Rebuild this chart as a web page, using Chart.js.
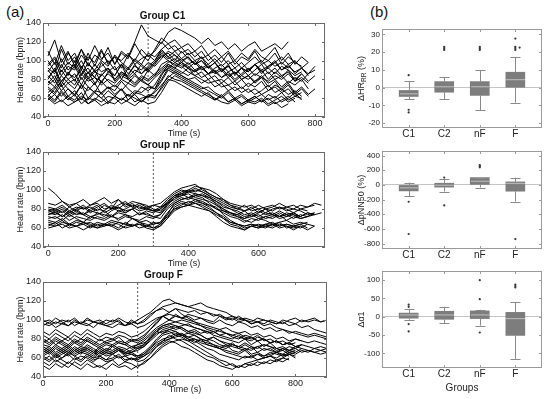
<!DOCTYPE html>
<html><head><meta charset="utf-8">
<script src="https://cdn.jsdelivr.net/npm/chart.js@4.4.1/dist/chart.umd.min.js"></script>
<style>
html,body{margin:0;padding:0;background:#fff;width:550px;height:399px;overflow:hidden;position:relative;font-family:'Liberation Sans',Arial,sans-serif;}
canvas{position:absolute;}
.lab{position:absolute;font-size:15px;color:#111;line-height:18px;}
</style></head><body>
<div class="lab" style="left:6px;top:3px">(a)</div>
<div class="lab" style="left:370px;top:3px">(b)</div>
<canvas id="cC1" width="330" height="129" style="left:0;top:10px"></canvas>
<canvas id="cNF" width="330" height="130" style="left:0;top:139px"></canvas>
<canvas id="cF" width="330" height="126" style="left:0;top:269px"></canvas>
<canvas id="bHR" width="210" height="120" style="left:340px;top:20px"></canvas>
<canvas id="bPN" width="210" height="119" style="left:340px;top:142px"></canvas>
<canvas id="bA1" width="210" height="132" style="left:340px;top:262px"></canvas>
<script>
// ---------- DATA ----------
const stimTime = 300;
const c1Time = [0,20,40,60,80,100,120,140,160,180,200,220,240,260,280,300,320,340,360,380,400,420,440,460,480,500,520,540,560,580,600,620,640,660,680,700,720,740,760,780,800];
const c1Traces = [
 [105,122,98,110,94,112,100,116,102,108,96,110,104,120,138,126,122,118,130,135,132,128,124,118,124,116,120,112,118,110,116,120,110,114,118,112,120],
 [100,88,112,96,104,90,108,94,110,98,104,92,106,100,112,104,110,120,112,116,108,112,104,110,100,106,98,108,96,104,100,110,98,106,114,100,108,96,104,98],
 [90,80,96,84,100,86,92,82,98,88,94,80,92,86,96,90,98,104,108,100,110,102,96,104,92,98,88,96,84,92,88,96,86,94,100,90,96,86,92,84],
 [80,92,74,88,78,94,82,90,76,88,84,96,80,86,78,90,84,96,100,94,98,92,88,94,86,90,82,88,80,86,92,84,90,80,88,82,90,78,86],
 [62,56,66,58,64,54,60,58,66,56,62,58,64,56,60,62,66,74,82,88,84,80,76,72,68,64,60,66,58,62,56,60,64,58,62,56,60,66,58],
 [70,64,74,62,68,58,72,66,60,68,62,70,58,66,64,60,68,78,90,86,82,78,74,70,72,66,62,68,60,64,58,62,56,64,60,66,58,62,60],
 [78,72,84,76,80,70,82,74,86,78,72,80,76,84,78,74,82,88,94,90,86,92,84,88,80,84,76,82,74,80,72,78,84,76,80,72,78,74,80,70],
 [88,98,84,94,90,100,86,96,88,92,84,96,90,100,94,88,96,106,100,96,92,98,90,94,86,92,96,88,92,84,90,96,88,92,86,94,90,84,88],
 [74,80,68,76,70,82,72,66,78,70,74,68,76,72,80,74,70,84,96,92,88,84,90,82,86,78,80,74,78,70,76,72,78,68,74,70,76,66,72,64,70],
 [58,64,56,62,58,66,54,60,56,62,60,54,58,64,56,62,60,72,84,80,78,74,70,66,62,58,64,56,60,54,58,62,56,60,54,58,62,56],
 [110,96,116,100,108,92,104,98,112,96,104,100,108,96,102,106,100,112,104,110,102,108,100,104,96,102,94,100,92,98,90,96,100,92,98,104,96,100,92,98],
 [84,76,90,80,86,74,88,82,78,86,80,88,82,76,84,80,86,92,98,102,96,92,98,90,94,86,90,82,88,80,84,78,82,88,80,84,76,82,78,86,90],
 [66,72,62,70,64,74,60,68,66,72,64,70,62,68,66,72,70,80,92,98,94,88,84,80,76,78,72,74,68,72,66,70,64,68,72,66,70,62,66],
 [92,86,102,90,96,84,98,88,94,100,90,96,86,94,90,98,94,102,110,106,100,104,96,100,92,98,90,94,86,92,88,96,90,94,98,90,94,88,92,86,94],
 [60,54,58,52,56,60,54,58,52,56,54,60,56,52,58,54,56,66,78,84,80,76,72,68,64,60,56,54,58,52,56,54,58,52,56,50,54],
 [76,84,72,80,74,86,78,82,74,80,76,84,80,74,82,78,84,90,96,92,98,94,88,92,86,88,82,86,78,84,80,86,82,78,84,80,86,78,82,76],
 [96,104,92,108,98,112,94,106,100,114,96,108,102,118,106,100,112,124,118,122,114,118,110,116,106,112,104,110,100,108,102,112,104,100,108,96,104,98,94],
 [62,70,78,86,82,90,80,88,84,92,78,86,82,90,86,94,100,110,104,98,102,96,100,92,96,88,92,84,88,80,84,76,82,72,78,68,74,64,70,62],
 [72,66,78,70,62,74,68,76,64,72,68,78,70,64,72,68,74,86,92,88,84,80,82,76,80,72,76,68,72,66,70,64,68,74,66,70,64,68,62],
 [94,102,88,98,92,106,96,90,100,94,106,98,92,102,96,108,104,112,118,110,114,106,110,102,106,98,104,96,100,92,98,104,96,100,94,98,92,100],
 [64,58,68,60,56,62,58,66,60,54,62,58,64,60,56,64,62,70,80,78,74,70,66,62,66,58,62,56,60,54,58,56,60,54,58,62,56,60],
 [82,90,78,86,94,80,88,76,84,92,80,88,84,96,86,92,98,108,102,106,98,104,96,100,92,98,88,94,86,92,84,90,96,86,92,84,88,80,86,78,84]
];
const nfTime = [0,20,40,60,80,100,120,140,160,180,200,220,240,260,280,300,320,340,360,380,400,420,440,460,480,500,520,540,560,580,600,620,640,660,680,700,720,740,760,780];
const nfTraces = [
 [102,96,88,84,86,80,82,78,84,80,82,78,80,84,80,78,82,86,94,98,100,104,102,100,96,90,84,80,78,82,76,80,78,82,80,76,80,78],
 [80,78,82,76,80,84,78,82,86,80,84,88,82,86,84,80,78,84,92,96,100,98,102,96,92,88,84,82,78,80,84,80,82,86,82,80,84,82,86,84],
 [74,76,72,78,74,76,72,74,78,72,76,74,72,76,74,72,70,80,86,90,92,94,96,92,88,84,80,78,74,76,72,76,74,72,76,74,72,76,74],
 [64,62,66,64,62,64,66,62,64,62,66,64,62,64,62,66,64,72,80,84,88,86,84,80,76,72,66,64,62,64,62,64,66,62,64,62,64,66],
 [66,64,68,62,66,64,60,64,62,66,64,60,62,66,64,60,62,70,78,82,84,86,82,78,72,66,62,60,58,62,60,62,64,60,62,58,62],
 [78,80,76,82,78,74,80,84,76,80,90,82,86,80,82,78,80,86,90,94,98,96,94,92,88,82,80,76,72,74,78,74,76,72,74,70,74,72,76],
 [72,70,74,68,72,70,68,72,70,74,68,72,70,68,72,70,74,82,88,92,90,94,92,86,80,76,72,70,66,70,68,72,70,74,68,72,70,72],
 [62,66,60,64,62,66,64,60,62,64,60,66,62,64,60,58,62,70,82,86,84,88,86,84,82,74,68,64,60,62,60,64,62,66,60,62,64,60],
 [76,74,78,72,76,74,70,76,74,72,78,76,80,74,76,72,74,84,92,94,96,92,90,88,84,80,76,74,70,72,74,70,72,76,72,74,70,72,74],
 [70,72,68,74,70,66,72,70,68,72,70,74,70,66,68,64,66,76,84,88,86,90,88,84,80,78,74,72,68,66,70,68,64,66,68,64,66,64],
 [82,80,84,78,82,80,84,86,80,82,78,80,84,82,80,78,76,86,94,96,98,100,98,94,84,78,76,72,70,74,70,72,74,70,72,76,72],
 [68,66,70,64,68,66,62,66,64,68,66,64,70,66,62,60,64,74,86,90,92,90,86,82,76,70,64,62,58,62,64,62,60,64,62,60,62,58,62],
 [86,84,88,82,86,90,84,88,92,86,90,84,88,86,82,84,86,92,98,102,104,106,100,96,92,90,86,84,82,84,80,82,84,80,82,84,80,82,84],
 [74,78,72,76,80,74,78,76,72,78,82,76,80,74,78,76,80,88,94,96,92,96,94,90,86,80,76,74,78,72,76,80,74,78,74,76,72,76,74,76],
 [60,62,64,60,62,58,62,60,64,62,58,62,64,60,62,64,66,74,80,82,84,82,80,78,74,70,66,64,62,64,62,60,64,62,64,62,60,64,62],
 [78,76,80,74,78,82,76,80,78,84,80,86,82,78,80,84,82,90,96,100,98,102,98,94,90,86,82,80,84,78,80,76,80,82,78,80,78,74,76]
];
const fTime = [0,20,40,60,80,100,120,140,160,180,200,220,240,260,280,300,320,340,360,380,400,420,440,460,480,500,520,540,560,580,600,620,640,660,680,700,720,740,760,780,800,820,840,860,880,900];
const fTraces = [
 [98,100,96,100,98,102,96,100,98,96,100,98,102,98,96,100,104,108,114,120,122,118,116,114,112,110,108,106,104,102,100,104,100,98,102,100,98,96,100,98,96,100,98,100,98,100],
 [96,94,98,96,94,98,96,94,98,96,94,92,96,94,98,96,98,104,110,114,116,118,116,114,116,118,114,112,110,108,104,102,100,96,98,94,96,92,90,88,86,84,82,84,82,80],
 [94,98,92,96,100,94,98,96,92,98,94,96,100,94,96,92,94,98,102,104,100,104,102,106,104,102,100,98,104,100,102,98,100,96,98,96,100,98,96,100,102,98,100,102,98,100],
 [80,76,82,78,74,80,76,82,78,74,78,80,76,74,78,76,80,86,92,96,100,98,96,94,92,90,88,86,90,86,84,86,82,80,84,78,80,76,78,74,76],
 [70,66,72,68,64,70,66,72,68,64,68,66,70,68,72,70,74,82,88,92,94,90,92,88,86,84,80,82,78,76,74,72,76,72,70,74,72,68,70,66,68],
 [60,56,62,58,54,60,56,62,58,60,56,58,62,56,60,58,62,66,72,76,80,82,84,86,84,80,78,74,70,66,64,62,60,62,58,60,62,58,60,64,62],
 [66,70,64,68,72,66,70,68,64,70,66,72,68,64,66,70,72,78,84,90,92,94,90,86,88,84,80,78,74,72,76,70,68,72,66,70,68,66,70,68,72,70,68,66,68,66],
 [74,72,78,74,70,76,72,78,74,70,74,72,76,74,70,74,76,80,86,88,90,92,94,96,92,90,86,88,84,82,80,84,80,78,82,80,76,78,74,76,80,78],
 [56,52,58,54,50,56,52,58,54,50,54,58,52,56,54,50,56,60,66,72,76,78,80,78,74,70,66,62,58,56,52,50,54,52,56,54,58,56,60,58],
 [62,58,64,60,66,62,58,64,60,62,58,64,60,62,58,60,64,70,78,84,86,88,84,80,78,74,70,68,64,62,60,58,62,60,64,62,66,64,62,66,64,68,66,70,68,70],
 [76,80,74,78,82,76,80,78,74,80,76,78,82,76,80,78,82,90,98,104,100,106,102,104,100,102,98,96,100,96,94,98,96,92,94,90,92,88,90,86,88,86,84,86,84,82],
 [68,64,70,66,62,68,64,70,66,62,66,64,68,66,64,62,66,72,80,86,88,84,86,82,80,78,76,74,72,70,74,72,70,68,72,74,72,70,68,72,70,74],
 [58,62,56,60,64,58,62,60,56,62,58,60,64,58,60,56,58,64,72,78,84,80,78,74,70,66,62,60,56,52,54,50,54,56,58,60,62,60,64,62],
 [72,68,74,70,66,72,68,74,70,66,70,68,72,70,66,68,72,80,88,94,96,98,100,98,96,94,92,90,88,86,84,82,80,82,78,80,76,78,74,76,72,74,72,70,72,70],
 [64,68,62,66,70,64,68,66,62,68,64,66,70,64,66,62,64,70,76,80,82,86,84,80,76,80,74,72,70,74,68,66,70,64,66,62,64,66,62,64,60],
 [84,80,86,82,78,84,80,86,82,78,82,80,84,82,78,80,84,90,96,104,108,112,106,102,98,94,90,88,84,86,82,80,84,82,78,80,76,78,74,76,72,74],
 [100,96,102,98,94,100,96,102,98,100,96,100,98,94,100,96,100,106,110,112,108,112,110,108,110,106,108,104,106,102,104,100,102,100,98,100,98,96,98,94,96,92,94,90,88,86],
 [78,74,80,76,72,78,74,80,76,72,76,74,78,76,72,74,78,84,90,94,96,94,92,88,90,86,88,84,82,80,78,76,80,74,78,72,76,70,72,68,70,66,68,66,64,66],
 [52,48,54,50,56,52,48,54,50,52,48,54,50,52,48,52,54,60,68,74,78,76,72,70,66,62,58,56,52,50,48,52,50,54,52,56,54,58,56,60],
 [68,72,66,70,74,68,72,70,66,72,68,74,70,66,68,72,74,82,88,86,90,88,84,82,84,80,78,82,78,74,72,70,74,70,72,68,70,66,68,64,66],
 [62,66,60,64,68,62,66,64,60,66,62,64,68,62,64,60,62,68,74,78,80,84,82,78,80,76,74,72,70,68,66,64,68,62,64,60,62,66,64,68,66,70],
 [88,84,90,86,82,88,84,90,86,82,86,84,88,86,82,84,88,94,100,104,106,104,102,100,98,96,94,92,90,92,88,86,88,84,86,82,84,80,82,78,80,78,76,78,76,74]
];
const hrTicks = [40,60,80,100,120,140];
const c1XTicks = [0,200,400,600,800];
const nfXTicks = [0,200,400,600];
const fXTicks = [0,200,400,600,800];

const groups = ['C1','C2','nF','F'];
// ΔHR_RR (%)
const hrLo  = [-6.4,-6.6,-12.7,-8.5];
const hrQ1  = [-5,-2.6,-4.4,0.2];
const hrMed = [-3.5,0.5,0.5,4.5];
const hrQ3  = [-1.6,3.4,3.4,8.7];
const hrHi  = [3.8,5.9,10,17.2];
const hrOut = [[1,7],[1,-12.5],[1,-14],[2,21.3],[2,22.2],[2,23],[3,21.3],[3,22.2],[3,23],[4,21.3],[4,22.2],[4,23],[4.12,22.6],[4,27.7]];
const hrAxTicks = [-20,-10,0,10,20,30];
// ΔpNN50 (%)
const pnLo  = [-155,-90,-36,-227];
const pnQ1  = [-82,-30,0,-86];
const pnMed = [-40,-5,50,20];
const pnQ3  = [0,23,100,41];
const pnHi  = [32,77,100,100];
const pnOut = [[1,-230],[1,-670],[2,100],[2,-280],[3,240],[3,255],[3,270],[4,-740]];
const pnAxTicks = [-800,-600,-400,-200,0,200,400];
// Δα1
const a1Lo  = [-8,-18,-24,-115];
const a1Q1  = [-4,-7,-5,-51];
const a1Med = [5,5,5,-5];
const a1Q3  = [10,15,16,12];
const a1Hi  = [22,27,19,40];
const a1Out = [[1,33],[1,27],[1,-20],[1,-40],[3,100],[3,48],[3,-43],[4,80],[4,84],[4,88]];
const a1AxTicks = [-100,-50,0,50,100];

// ---------- CHARTS ----------
Chart.defaults.font.family = "'Liberation Sans', Arial, sans-serif";
Chart.defaults.font.size = 9;
Chart.defaults.color = '#222';
Chart.defaults.animation = false;

const framePlugin = {
  id: 'frame',
  afterDatasetsDraw(chart, args, opts) {
    const {ctx, chartArea: a, scales} = chart;
    ctx.save();
    ctx.strokeStyle = opts.color || '#555';
    ctx.lineWidth = 1;
    ctx.strokeRect(Math.round(a.left)+0.5, Math.round(a.top)+0.5, Math.round(a.right-a.left)-1, Math.round(a.bottom-a.top)-1);
    const L = 3;
    ctx.beginPath();
    scales.x.ticks.forEach(t => {
      const p = Math.round(scales.x.getPixelForValue(t.value))+0.5;
      ctx.moveTo(p, a.bottom); ctx.lineTo(p, a.bottom-L);
      ctx.moveTo(p, a.top); ctx.lineTo(p, a.top+L);
    });
    scales.y.ticks.forEach(t => {
      const p = Math.round(scales.y.getPixelForValue(t.value))+0.5;
      ctx.moveTo(a.left, p); ctx.lineTo(a.left+L, p);
      ctx.moveTo(a.right, p); ctx.lineTo(a.right-L, p);
    });
    ctx.stroke();
    ctx.restore();
  }
};

function lineChart(id, title, time, traces, xmin, xmax, xticks, padRight, xH) {
  const datasets = traces.map(vals => ({
    data: vals.map((v,i) => ({x: time[i], y: v})),
    borderColor: '#000', borderWidth: 1, pointRadius: 0, tension: 0
  }));
  datasets.push({data: [{x: stimTime, y: 40}, {x: stimTime, y: 140}],
    borderColor: '#555', borderWidth: 1, borderDash: [2,2], pointRadius: 0});
  new Chart(document.getElementById(id), {
    type: 'line',
    data: {datasets},
    options: {
      responsive: false, animation: false, events: [],
      layout: {padding: {left: 0, right: padRight, top: 0, bottom: 0}},
      plugins: {
        legend: {display: false}, tooltip: {enabled: false},
        title: {display: true, text: title, color: '#111', font: {size: 10, weight: 'bold'}, padding: {top: 0, bottom: 1}},
        frame: {color: '#6a6a6a'}
      },
      scales: {
        x: {type: 'linear', min: xmin, max: xmax,
          afterBuildTicks: s => { s.ticks = xticks.map(v => ({value: v})); },
          afterFit: s => { s.height = xH; },
          grid: {display: false, drawTicks: false}, border: {display: false},
          ticks: {padding: 1, maxRotation: 0, autoSkip: false},
          title: {display: true, text: 'Time (s)', padding: 0, font: {size: 9}}},
        y: {type: 'linear', min: 40, max: 140,
          afterBuildTicks: s => { s.ticks = hrTicks.map(v => ({value: v})); },
          afterFit: s => { s.width = 43; },
          grid: {display: false, drawTicks: false}, border: {display: false},
          ticks: {padding: 2},
          title: {display: true, text: 'Heart rate (bpm)', padding: {top: 15, bottom: 0}, font: {size: 9}}}
      }
    },
    plugins: [framePlugin]
  });
}

const boxPlugin = {
  id: 'boxes',
  afterDatasetsDraw(chart, args, o) {
    if (!o || !o.lo) return;
    const {ctx, scales: {x, y}} = chart;
    ctx.save();
    const cap = 5, half = 9.5;
    o.lo.forEach((lo, i) => {
      const cx = Math.round(x.getPixelForValue(i+1)) + 0.5;
      const pLo = y.getPixelForValue(lo), pHi = y.getPixelForValue(o.hi[i]);
      const pQ1 = y.getPixelForValue(o.q1[i]), pQ3 = y.getPixelForValue(o.q3[i]);
      ctx.strokeStyle = '#8a8a8a'; ctx.lineWidth = 1;
      ctx.beginPath();
      ctx.moveTo(cx, pQ3); ctx.lineTo(cx, pHi);
      ctx.moveTo(cx, pQ1); ctx.lineTo(cx, pLo);
      ctx.moveTo(cx-cap, Math.round(pHi)+0.5); ctx.lineTo(cx+cap, Math.round(pHi)+0.5);
      ctx.moveTo(cx-cap, Math.round(pLo)+0.5); ctx.lineTo(cx+cap, Math.round(pLo)+0.5);
      ctx.stroke();
      const pM = y.getPixelForValue(o.med[i]);
      ctx.strokeStyle = '#b5b5b5'; ctx.lineWidth = 1.2;
      ctx.beginPath(); ctx.moveTo(cx-half, pM); ctx.lineTo(cx+half, pM); ctx.stroke();
    });
    // y title with optional subscript
    const parts = o.titleParts;
    let total = 0;
    parts.forEach(p => { ctx.font = p.size + "px 'Liberation Sans', Arial, sans-serif"; p.w = ctx.measureText(p.t).width; total += p.w; });
    const a = chart.chartArea;
    ctx.translate(o.titleX, (a.top + a.bottom)/2);
    ctx.rotate(-Math.PI/2);
    ctx.fillStyle = '#222'; ctx.textBaseline = 'middle';
    let cur = -total/2;
    parts.forEach(p => {
      ctx.font = p.size + "px 'Liberation Sans', Arial, sans-serif";
      ctx.fillText(p.t, cur, p.dy || 0);
      cur += p.w;
    });
    ctx.restore();
  }
};

function boxChart(id, lo, q1, med, q3, hi, outs, ymin, ymax, yticks, titleParts, xTitle, xH) {
  new Chart(document.getElementById(id), {
    type: 'bar',
    data: {datasets: [
      {type: 'bar', data: q1.map((v,i) => ({x: i+1, y: [v, q3[i]]})),
       backgroundColor: '#7d7d7d', borderWidth: 0, barThickness: 19},
      {type: 'line', data: outs.map(p => ({x: p[0], y: p[1]})), showLine: false,
       pointRadius: 1.1, pointBackgroundColor: '#333', pointBorderWidth: 0}
    ]},
    options: {
      responsive: false, animation: false, events: [],
      layout: {padding: {left: 0, right: 8, top: 9, bottom: 0}},
      plugins: {
        legend: {display: false}, tooltip: {enabled: false},
        frame: {color: '#9a9a9a'},
        boxes: {lo, q1, med, q3, hi, titleParts, titleX: 22}
      },
      scales: {
        x: {type: 'linear', min: 0.25, max: 4.75, offset: false,
          afterBuildTicks: s => { s.ticks = [1,2,3,4].map(v => ({value: v})); },
          afterFit: s => { s.height = xH; },
          grid: {display: false, drawTicks: false, offset: false}, border: {display: false},
          ticks: {padding: 0, font: {size: 10}, maxRotation: 0, autoSkip: false, callback: v => groups[v-1]},
          title: {display: !!xTitle, text: xTitle || '', padding: 0, font: {size: 10}}},
        y: {type: 'linear', min: ymin, max: ymax,
          afterBuildTicks: s => { s.ticks = yticks.map(v => ({value: v})); },
          afterFit: s => { s.width = 42; },
          grid: {display: true, drawTicks: false, drawOnChartArea: true, lineWidth: 1,
            color: c => (c.tick && c.tick.value === 0) ? '#c4c4c4' : 'rgba(0,0,0,0)'},
          border: {display: false},
          ticks: {padding: 2, font: {size: 8}}}
      }
    },
    plugins: [framePlugin, boxPlugin]
  });
}

lineChart('cC1', 'Group C1', c1Time, c1Traces, -15, 830, c1XTicks, 5, 22);
lineChart('cNF', 'Group nF', nfTime, nfTraces, -15, 790, nfXTicks, 5, 22);
lineChart('cF', 'Group F', fTime, fTraces, 0, 900, fXTicks, 3, 18);

boxChart('bHR', hrLo, hrQ1, hrMed, hrQ3, hrHi, hrOut, -22.8, 33.1, hrAxTicks,
  [{t: '\u0394HR', size: 9}, {t: 'RR', size: 6.5, dy: 2.5}, {t: ' (%)', size: 9}], null, 12);
boxChart('bPN', pnLo, pnQ1, pnMed, pnQ3, pnHi, pnOut, -875, 463, pnAxTicks,
  [{t: '\u0394pNN50 (%)', size: 9}], null, 12);
boxChart('bA1', a1Lo, a1Q1, a1Med, a1Q3, a1Hi, a1Out, -140, 125, a1AxTicks,
  [{t: '\u0394\u03b11', size: 9}], 'Groups', 26);
</script>
</body></html>
